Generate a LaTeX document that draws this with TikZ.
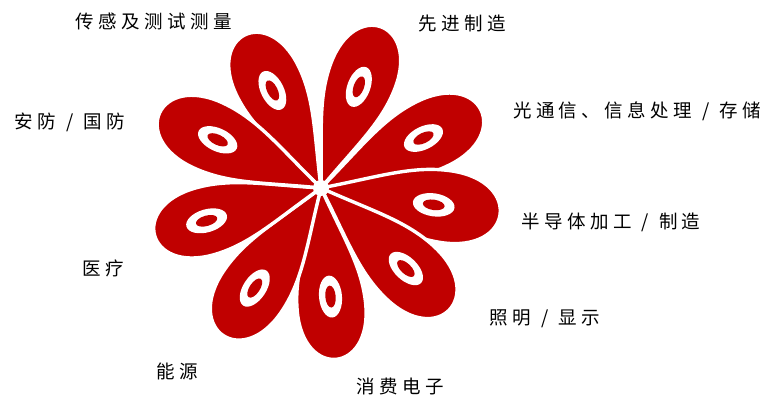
\documentclass[tikz,border=0pt]{standalone}
\usepackage{fontspec}
\newfontfamily\cjkfont[LetterSpace=24]{Noto Sans CJK SC}
\definecolor{petalred}{HTML}{C00000}
\tikzset{
  petalfill/.style={fill=petalred, draw=white, line width=3.4pt, line join=round},
  tag/.style={font=\cjkfont\fontsize{18.5}{20}\selectfont, text=black, inner sep=0pt}
}
% slash between two terms of a label
\newcommand\sepslash{\hspace{10pt}/\hspace{10pt}}
% one petal: angle, length, distance of the ring from the centre
\newcommand\flowerpetal[3]{%
  \begin{scope}[shift={(321,209)}, rotate=#1]
    \path[petalfill] (0,0)
      .. controls (0.30*#2,0.105*#2) and (0.48*#2,0.2*#2) .. (0.70*#2,0.2*#2)
      .. controls (1.10*#2,0.2*#2) and (1.10*#2,-0.2*#2) .. (0.70*#2,-0.2*#2)
      .. controls (0.48*#2,-0.2*#2) and (0.30*#2,-0.105*#2) .. cycle;
    \fill[white] (#3,0) ellipse [x radius=21pt, y radius=11.5pt];
    \fill[petalred] (#3,0) ellipse [x radius=11pt, y radius=5.2pt];
  \end{scope}}
\begin{document}
\begin{tikzpicture}[x=1pt, y=1pt]
  \useasboundingbox (0,0) rectangle (769,397);
  \coordinate (ctr) at (321,209);
  % petals, going round the flower
  \flowerpetal{116.5}{171}{109}
  \flowerpetal{69.5}{172}{108}
  \flowerpetal{26}{178}{114}
  \flowerpetal{-8.5}{181}{114}
  \flowerpetal{-43.5}{177}{117}
  \flowerpetal{-85}{172}{109}
  \flowerpetal{-123.5}{177}{120}
  \flowerpetal{196}{173}{119}
  \flowerpetal{155}{178}{114}
  \fill[white] (ctr) circle [radius=8pt];
  % labels
  \node[tag] (sens) at (154,376) {传感及测试测量};
  \node[tag] (manu) at (462,373) {先进制造};
  \node[tag] (optc) at (637,286) {光通信、信息处理\sepslash 存储};
  \node[tag] (semi) at (611,175) {半导体加工\sepslash 制造};
  \node[tag] (lght) at (545,78) {照明\sepslash 显示};
  \node[tag] (cons) at (400,11) {消费电子};
  \node[tag] (enrg) at (177,26) {能源};
  \node[tag] (medi) at (103,129) {医疗};
  \node[tag] (secu) at (70,275) {安防\sepslash 国防};
\end{tikzpicture}
\end{document}
